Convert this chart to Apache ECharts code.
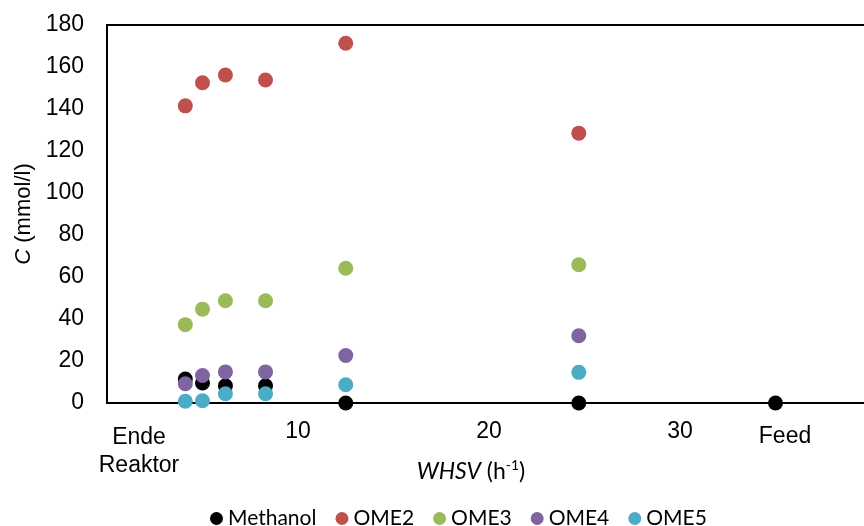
<!DOCTYPE html>
<html>
<head>
<meta charset="utf-8">
<script src="https://cdn.jsdelivr.net/npm/echarts@6/dist/echarts.min.js"></script>
<style>
  html, body { margin: 0; padding: 0; background: #fff; }
  #chart { width: 864px; height: 526px; }
</style>
</head>
<body>
<div id="chart"></div>
<script>
// WHSV (h^-1) of each sample; the last one is the feed
const whsv = [4.1, 5.0, 6.2, 8.3, 12.5, 24.7, 35];

// Concentrations in mmol/l
const methanol = [11.4, 9.5, 8.2, 8.2, 0, 0, 0];
const ome2 = [141.5, 152.5, 156.2, 153.8, 171.3, 128.5];
const ome3 = [37.3, 44.7, 48.7, 48.7, 64.2, 65.8];
const ome4 = [9.2, 13.1, 14.8, 14.8, 22.6, 32.0];
const ome5 = [0.8, 1.1, 4.4, 4.4, 8.7, 14.6];

const seriesNames = ['Methanol', 'OME2', 'OME3', 'OME4', 'OME5'];
const seriesValues = [methanol, ome2, ome3, ome4, ome5];
const seriesColors = ['#000000', '#C0504D', '#9BBB59', '#8064A2', '#4BACC6'];

const xTickLabels = [10, 20, 30];
const yTicks = [0, 20, 40, 60, 80, 100, 120, 140, 160, 180];

const chart = echarts.init(document.getElementById('chart'));

const series = seriesNames.map((name, i) => ({
  name: name,
  type: 'scatter',
  symbol: 'circle',
  symbolSize: 15,
  itemStyle: { color: seriesColors[i], opacity: 1 },
  emphasis: { disabled: true },
  data: seriesValues[i].map((v, k) => [whsv[k], v])
}));

chart.setOption({
  animation: false,
  backgroundColor: '#fff',
  grid: {
    left: 107, top: 25, width: 764, height: 378,
    outerBoundsMode: 'none',
    containLabel: false,
    show: true, borderColor: '#000', borderWidth: 2, backgroundColor: 'transparent'
  },
  legend: {
    data: seriesNames.map(n => ({ name: n, icon: 'circle' })),
    left: 205, top: 503,
    itemWidth: 13, itemHeight: 13, itemGap: 19,
    textStyle: { fontFamily: 'Lato', fontSize: 21, color: '#000' }
  },
  xAxis: {
    type: 'value', min: 0, max: 40, interval: 10,
    axisLine: { show: true, lineStyle: { color: '#000', width: 2 } },
    axisTick: { show: false },
    splitLine: { show: false },
    axisLabel: {
      margin: 17,
      fontFamily: 'Liberation Sans', fontSize: 23, color: '#000',
      formatter: v => (xTickLabels.indexOf(v) >= 0 ? String(v) : '')
    }
  },
  yAxis: {
    type: 'value', min: yTicks[0], max: yTicks[yTicks.length - 1], interval: 20,
    axisLine: { show: true, lineStyle: { color: '#000', width: 2 } },
    axisTick: { show: false },
    splitLine: { show: false },
    axisLabel: { margin: 23, fontFamily: 'Liberation Sans', fontSize: 23, color: '#000' },
    name: '{i|C} (mmol/l)',
    nameLocation: 'middle',
    nameGap: 70,
    nameTextStyle: {
      fontFamily: 'Liberation Sans', fontSize: 22, color: '#000',
      rich: { i: { fontFamily: 'Liberation Sans', fontSize: 22, fontStyle: 'italic', color: '#000' } }
    }
  },
  graphic: [
    {
      type: 'text',
      style: {
        x: 471, y: 472, text: '{it|WHSV} (h{sup|-1})', align: 'center', verticalAlign: 'middle',
        fontFamily: 'Lato', fontSize: 23, fill: '#000',
        rich: {
          it: { fontFamily: 'Lato', fontSize: 23, fontStyle: 'italic', fill: '#000' },
          sup: { fontFamily: 'Lato', fontSize: 14, fill: '#000', padding: [0, 0, 14, 0] }
        }
      }
    },
    {
      type: 'text',
      style: {
        x: 139, y: 452, text: 'Ende\nReaktor', align: 'center', verticalAlign: 'middle',
        fontFamily: 'Liberation Sans', fontSize: 23, lineHeight: 28, fill: '#000'
      }
    },
    {
      type: 'text',
      style: {
        x: 785, y: 437, text: 'Feed', align: 'center', verticalAlign: 'middle',
        fontFamily: 'Liberation Sans', fontSize: 23, fill: '#000'
      }
    }
  ],
  series: series
});
</script>
</body>
</html>
